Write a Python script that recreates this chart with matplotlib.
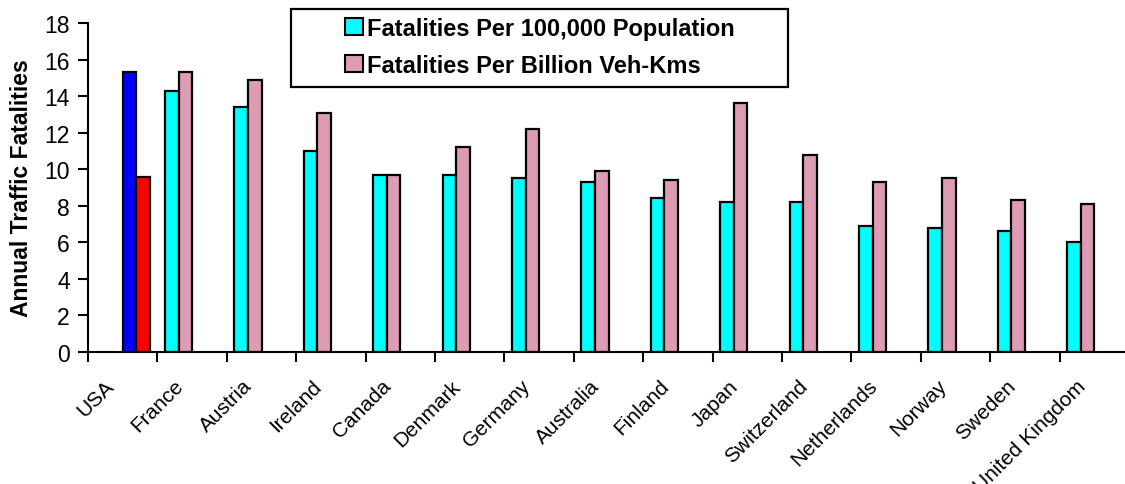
import matplotlib
matplotlib.use('Agg')
import matplotlib.pyplot as plt
import matplotlib.transforms as mtransforms
from matplotlib.patches import Patch, Rectangle
import numpy as np

plt.rcParams['font.family'] = ['Liberation Sans', 'DejaVu Sans']

countries = ['USA', 'France', 'Austria', 'Ireland', 'Canada', 'Denmark', 'Germany',
             'Australia', 'Finland', 'Japan', 'Switzerland', 'Netherlands', 'Norway',
             'Sweden', 'United Kingdom']
# USA kept separate so it gets its own colours
usa_per_pop = 15.3
usa_per_km = 9.6
per_pop = [14.3, 13.4, 11.0, 9.7, 9.7, 9.5, 9.3, 8.4, 8.2, 8.2, 6.9, 6.8, 6.6, 6.0]
per_km = [15.3, 14.9, 13.1, 9.7, 11.2, 12.2, 9.9, 9.4, 13.6, 10.8, 9.3, 9.5, 8.3, 8.1]
yticks = list(range(0, 19, 2))
series_names = ['Fatalities Per 100,000 Population', 'Fatalities Per Billion Veh-Kms']

W, H = 1125, 485
fig = plt.figure(figsize=(W / 100, H / 100), dpi=100)
ax = fig.add_axes([88 / W, 1 - 353 / H, 1041 / W, 329 / H])

w = 0.195
slot = [-0.39 + w * (k + 0.5) for k in range(4)]
x = np.arange(len(countries))
others = x[1:]
ec = dict(edgecolor='black', linewidth=1.6)

ax.bar(others + slot[0], per_pop, w, color='#00FFFF', **ec)
ax.bar(others + slot[1], per_km, w, color='#DE9BB4', **ec)
ax.bar([x[0] + slot[2]], [usa_per_pop], w, color='#0000FF', **ec)
ax.bar([x[0] + slot[3]], [usa_per_km], w, color='#FF0000', **ec)

ax.set_xlim(-0.5, len(countries) - 0.5)
ax.set_ylim(0, 18)
ax.set_yticks(yticks)
ax.tick_params(axis='y', labelsize=16.5, length=7, width=1.5, direction='out', pad=6)

# category labels at centres, tick marks between categories
ax.set_xticks(x)
ax.set_xticklabels(countries, rotation=45, ha='right', va='center',
                   rotation_mode='anchor', fontsize=15)
ax.tick_params(axis='x', which='major', length=0, pad=22)
ax.set_xticks(np.arange(len(countries)) - 0.5, minor=True)
ax.tick_params(axis='x', which='minor', length=7, width=1.5, direction='out')
shift = mtransforms.ScaledTranslation(-12 / 100, 0, fig.dpi_scale_trans)
for lbl in ax.get_xticklabels():
    lbl.set_transform(lbl.get_transform() + shift)

for side in ['top', 'right']:
    ax.spines[side].set_visible(False)
for side in ['left', 'bottom']:
    ax.spines[side].set_linewidth(1.5)

ax.set_ylabel('Annual Traffic Fatalities', fontsize=16.5, fontweight='bold', labelpad=8)

# legend box drawn separately, entries centred inside it
fig.patches.append(Rectangle((291 / W, 1 - 88 / H), 497 / W, 78 / H,
                             transform=fig.transFigure, facecolor='white',
                             edgecolor='black', linewidth=1.6, zorder=5))
handles = [Patch(facecolor='#00FFFF', edgecolor='black', linewidth=1.5),
           Patch(facecolor='#DE9BB4', edgecolor='black', linewidth=1.5)]
leg = fig.legend(handles, series_names, loc='center',
                 bbox_to_anchor=(540 / W, 1 - 48 / H), frameon=False,
                 prop={'size': 17, 'weight': 'bold'}, handlelength=0.75, handleheight=0.75,
                 handletextpad=0.2, borderpad=0, labelspacing=0.6)
leg.set_zorder(6)

fig.savefig('out.png', dpi=100)
